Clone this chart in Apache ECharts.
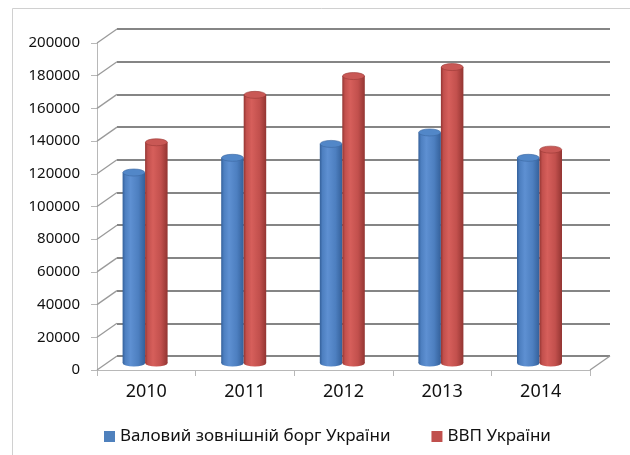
<!DOCTYPE html>
<html>
<head>
<meta charset="utf-8">
<script src="https://cdn.jsdelivr.net/npm/echarts@6/dist/echarts.min.js"></script>
<style>
html,body{margin:0;padding:0;background:#fff;}
#c{width:630px;height:455px;}
</style>
</head>
<body>
<div id="c"></div>
<script>
const years = ['2010', '2011', '2012', '2013', '2014'];
const debtName = 'Валовий зовнішній борг України';
const gdpName = 'ВВП України';
const debt = [116500, 125500, 134000, 141000, 125500];
const gdp = [135000, 164000, 175500, 181000, 130500];
const yTicks = [0, 20000, 40000, 60000, 80000, 100000, 120000, 140000, 160000, 180000, 200000];

const DX = 20, DY = -14;      // depth of the back wall
const MX = 0, MY = -7;        // mid-depth where cylinders stand
const BAR_W = 22.5, PAIR_SHIFT = -1.2;

function cylinder(offset, edge, light, main, capFill, capStroke) {
  return function (params, api) {
    const idx = api.value(0), v = api.value(1);
    const t = api.coord([idx, v]);
    const b = api.coord([idx, 0]);
    const cx = t[0] + PAIR_SHIFT + offset + MX;
    const x0 = cx - BAR_W / 2;
    const yT = t[1] + MY, yB = b[1] + MY;
    const rx = BAR_W / 2, ry = 3.6;
    const grad = new echarts.graphic.LinearGradient(0, 0, 1, 0, [
      {offset: 0, color: edge}, {offset: 0.12, color: main}, {offset: 0.35, color: light},
      {offset: 0.7, color: main}, {offset: 1, color: edge}
    ]);
    return {
      type: 'group',
      children: [
        {type: 'rect', shape: {x: x0, y: yT, width: BAR_W, height: yB - yT}, style: {fill: grad}},
        {type: 'circle', x: cx, y: yB, scaleY: ry / rx, shape: {cx: 0, cy: 0, r: rx}, style: {fill: grad}},
        {type: 'circle', x: cx, y: yT, scaleY: ry / rx, shape: {cx: 0, cy: 0, r: rx - 0.3},
          style: {fill: capFill, stroke: capStroke, lineWidth: 1}}
      ]
    };
  };
}

const chart = echarts.init(document.getElementById('c'), null, {renderer: 'canvas'});
chart.setOption({
  animation: false,
  backgroundColor: '#ffffff',
  graphic: [{
    type: 'rect', z: -10, silent: true,
    shape: {x: 12.5, y: 8.5, width: 800, height: 800},
    style: {fill: 'none', stroke: '#d0d0d0', lineWidth: 1}
  }],
  grid: [
    {left: 97, right: 40, top: 43, bottom: 85},
    {left: 97 + DX, right: 40 - DX, top: 43 + DY, bottom: 85 - DY}
  ],
  xAxis: [
    {
      type: 'category', gridIndex: 0, data: years, boundaryGap: true,
      axisLine: {lineStyle: {color: '#b8b8b8', width: 1}},
      axisTick: {show: true, length: 6, lineStyle: {color: '#b8b8b8'}},
      axisLabel: {color: '#111', fontFamily: 'Noto Sans', fontSize: 18, margin: 13}
    },
    {
      type: 'category', gridIndex: 1, data: years, show: false
    }
  ],
  yAxis: [
    {
      type: 'value', gridIndex: 0, min: 0, max: 200000, interval: 20000,
      axisLine: {show: true, lineStyle: {color: '#b8b8b8', width: 1}},
      axisTick: {show: true, length: 6, lineStyle: {color: '#b8b8b8'}},
      splitLine: {show: false},
      axisLabel: {color: '#111', fontFamily: 'Noto Sans', fontSize: 15, margin: 17,
        formatter: function (v) { return String(v); }}
    },
    {
      type: 'value', gridIndex: 1, min: 0, max: 200000, interval: 20000,
      axisLine: {show: false}, axisTick: {show: false}, axisLabel: {show: false},
      splitLine: {show: true, lineStyle: {color: '#858585', width: 2}}
    }
  ],
  legend: {
    left: 104, top: 428, padding: 0,
    itemWidth: 11, itemHeight: 11, itemGap: 41, icon: 'rect',
    textStyle: {color: '#111', fontFamily: 'Noto Sans', fontSize: 17},
    data: [debtName, gdpName]
  },
  series: [
    {
      type: 'custom', name: 'connectors', xAxisIndex: 0, yAxisIndex: 0, z: 1, silent: true,
      data: yTicks.map(v => [0, v]),
      encode: {x: 0, y: 1},
      renderItem: function (params, api) {
        const p = api.coord([api.value(0), api.value(1)]);
        const x0 = p[0] - api.size([1, 0])[0] / 2;
        return {type: 'line', shape: {x1: x0, y1: p[1], x2: x0 + DX, y2: p[1] + DY},
          style: {stroke: '#9a9a9a', lineWidth: 1.3}};
      }
    },
    {
      type: 'custom', name: 'floorEdge', xAxisIndex: 0, yAxisIndex: 0, z: 1, silent: true,
      data: [[years.length - 1, 0]],
      encode: {x: 0, y: 1},
      renderItem: function (params, api) {
        const p = api.coord([api.value(0), api.value(1)]);
        const x0 = p[0] + api.size([1, 0])[0] / 2;
        return {type: 'line', shape: {x1: x0, y1: p[1], x2: x0 + DX, y2: p[1] + DY},
          style: {stroke: '#9a9a9a', lineWidth: 1.3}};
      }
    },
    {
      type: 'custom', name: debtName, xAxisIndex: 0, yAxisIndex: 0, z: 3,
      itemStyle: {color: '#4f81bd'},
      data: debt.map((v, i) => [i, v]),
      encode: {x: 0, y: 1},
      renderItem: cylinder(-BAR_W / 2, '#34609a', '#5e90d2', '#4d7fc0', '#5287c8', '#3d6aa3')
    },
    {
      type: 'custom', name: gdpName, xAxisIndex: 0, yAxisIndex: 0, z: 4,
      itemStyle: {color: '#c0504d'},
      data: gdp.map((v, i) => [i, v]),
      encode: {x: 0, y: 1},
      renderItem: cylinder(BAR_W / 2, '#933532', '#d65f5b', '#c2504d', '#c95855', '#9e3c39')
    }
  ]
});
</script>
</body>
</html>
